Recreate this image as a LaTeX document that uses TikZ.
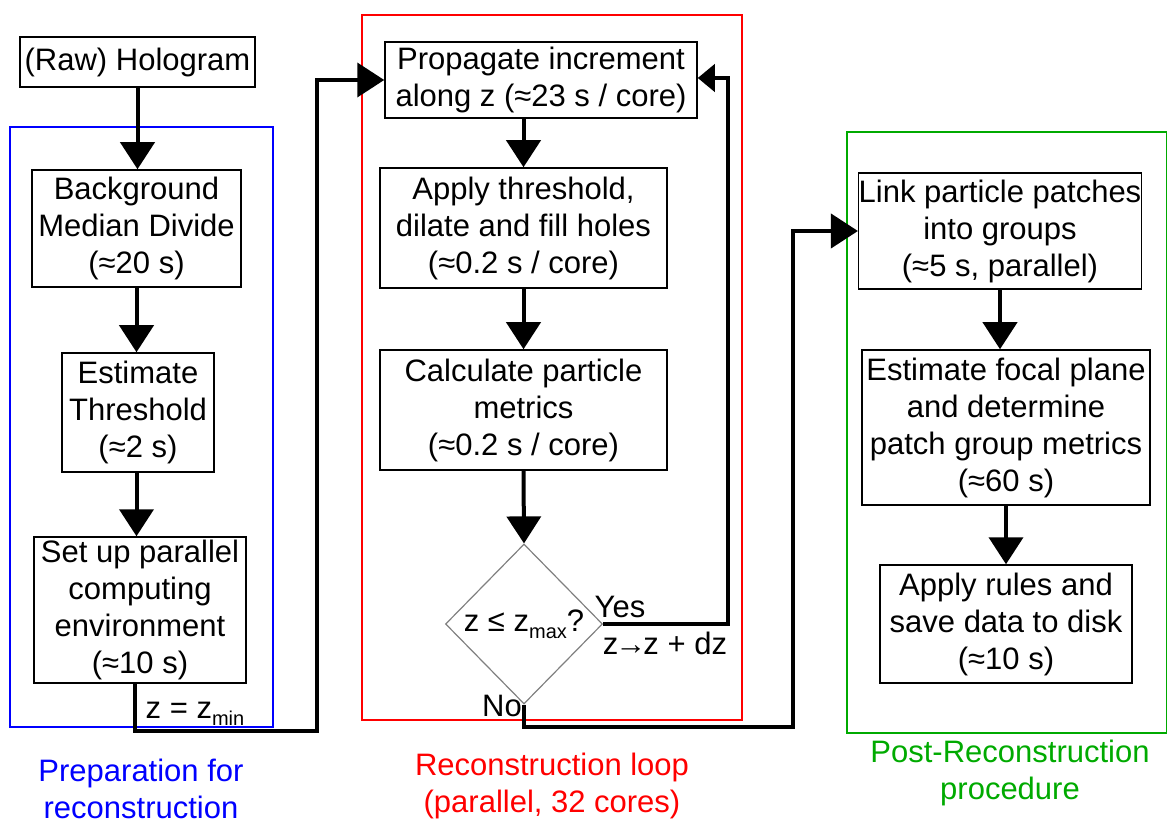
\documentclass[tikz,border=0pt]{standalone}
\usepackage{fontspec}
\setmainfont{Liberation Sans}
\usepackage{tikz}
\usetikzlibrary{arrows.meta,positioning,shapes.geometric}
\definecolor{prepblue}{RGB}{0,0,255}
\definecolor{loopred}{RGB}{255,0,0}
\definecolor{postgreen}{RGB}{0,170,0}
\newcommand{\lowidx}[1]{\raisebox{-0.45ex}{\fontsize{10}{10}\selectfont #1}}

\begin{document}
\begin{tikzpicture}[x=0.5pt, y=-0.5pt,
  font=\fontsize{15.5}{18.5}\selectfont,
  stepbox/.style={draw, line width=0.75pt, align=center, inner sep=0pt},
  flow/.style={line width=2pt, -{Triangle[width=17pt,length=13.5pt]}},
  backflow/.style={line width=2pt, -{Triangle[width=13.5pt,length=8.5pt]}},
  frame/.style={line width=1pt}]
\useasboundingbox (0,0) rectangle (1167,823);

% Gruppi
\draw[frame, prepblue] (10,127) rectangle (273,727);
\draw[frame, loopred] (362,15) rectangle (742,720);
\draw[frame, postgreen] (847,132) rectangle (1167,733);

% Preparazione
\node[stepbox, minimum width=117.5pt, minimum height=25pt] (holo) at (137.5,62) {(Raw) Hologram};
\node[stepbox, minimum width=104.5pt, minimum height=58.5pt] (bg) at (136.5,228.5) {Background\\Median Divide\\(≈20 s)};
\node[stepbox, minimum width=76pt, minimum height=59.5pt] (thr) at (138,412.5) {Estimate\\Threshold\\(≈2 s)};
\node[stepbox, minimum width=106pt, minimum height=73pt] (env) at (140,610) {Set up parallel\\computing\\environment\\(≈10 s)};

% Ciclo di ricostruzione
\node[stepbox, minimum width=156pt, minimum height=38pt] (prop) at (541,80) {Propagate increment\\along z (≈23 s / core)};
\node[stepbox, minimum width=143.5pt, minimum height=60pt] (fill) at (523.5,228) {Apply threshold,\\dilate and fill holes\\(≈0.2 s / core)};
\node[stepbox, minimum width=143.5pt, minimum height=60pt] (metr) at (523.5,410) {Calculate particle\\metrics\\(≈0.2 s / core)};
\node[diamond, draw=gray, line width=0.6pt, minimum width=78.5pt, minimum height=80pt, inner sep=0pt] (cond) at (524,624) {z ≤ z\lowidx{max}?};

% Post-ricostruzione
\node[stepbox, minimum width=140pt, minimum height=58pt] (link) at (1000,231) {Link particle patches\\into groups\\(≈5 s, parallel)};
\node[stepbox, minimum width=144pt, minimum height=77.5pt] (focal) at (1006,427.5) {Estimate focal plane\\and determine\\patch group metrics\\(≈60 s)};
\node[stepbox, minimum width=126pt, minimum height=59pt] (rules) at (1006,624) {Apply rules and\\save data to disk\\(≈10 s)};

% Punti di piega
\coordinate (bendA) at (317,731);
\coordinate (bendB) at (728,78);
\coordinate (bendC) at (793,727);

% Frecce
\draw[flow] (holo.south) -- (holo.south |- bg.north);
\draw[flow] (bg.south) -- (bg.south |- thr.north);
\draw[flow] (thr.south -| bg.south) -- (bg.south |- env.north);
\draw[flow] ([xshift=-2.5pt]env.south) |- (bendA) |- (prop.west);
\draw[flow] (prop.south -| fill.north) -- (fill.north);
\draw[flow] (fill.south) -- (metr.north);
\draw[flow] (metr.south) -- (cond.north);
\draw[backflow] (cond.east) -| (bendB) -- (bendB -| prop.east);
\draw[flow] (cond.south) |- (bendC) |- (link.west);
\draw[flow] (link.south) -- (link.south |- focal.north);
\draw[flow] (focal.south) -- (rules.north);

% Etichette
\node (zmin) at (195,714) {z = z\lowidx{min}};
\node (yes) at (620,607) {Yes};
\node (step) at (665,643) {z\kern-1.5pt→\kern-1.5pt z + dz};
\node (no) at (502,706) {No};

% Didascalie
\node[prepblue, align=center] (capA) at (141,789) {Preparation for\\reconstruction};
\node[loopred, align=center] (capB) at (552,786) {Reconstruction loop\\(parallel, 32 cores)};
\node[postgreen, align=center] (capC) at (1010,773) {Post-Reconstruction\\procedure};
\end{tikzpicture}
\end{document}
